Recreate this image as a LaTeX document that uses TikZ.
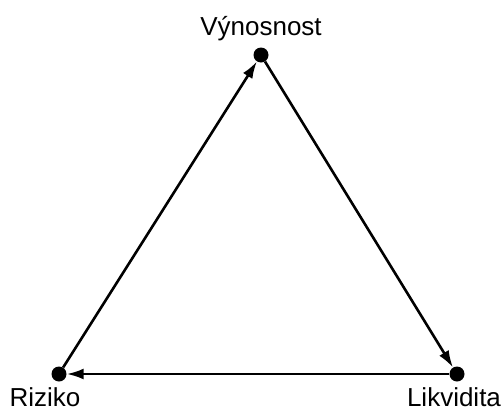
\documentclass[tikz,border=0pt]{standalone}
\usepackage{fontspec}
\setmainfont{Liberation Sans}
\usetikzlibrary{arrows.meta}
\tikzset{
    corner/.style={
        circle,
        fill=black,
        inner sep=0pt,
        minimum size=15pt
    },
    corner label/.style={
        anchor=base,
        font=\fontsize{26}{30}\selectfont
    },
    side/.style={
        line width=2.6pt,
        -{Latex[length=17pt,width=11pt]}
    }
}
\begin{document}
\begin{tikzpicture}[x=1pt,y=-1pt]
    \useasboundingbox (0,0) rectangle (504,410);
    \node [corner] (vyn) at (261,55) {};
    \node [corner] (riz) at (59,374) {};
    \node [corner] (lik) at (457,374) {};
    \node [corner label] (vynlabel) at (261,35) {Výnosnost};
    \node [corner label] (rizlabel) at (45,406) {Riziko};
    \node [corner label] (liklabel) at (454,406) {Likvidita};
    \draw [side] (riz) -- (vyn);
    \draw [side] (vyn) -- (lik);
    \draw [side] (lik) -- (riz);
\end{tikzpicture}
\end{document}
